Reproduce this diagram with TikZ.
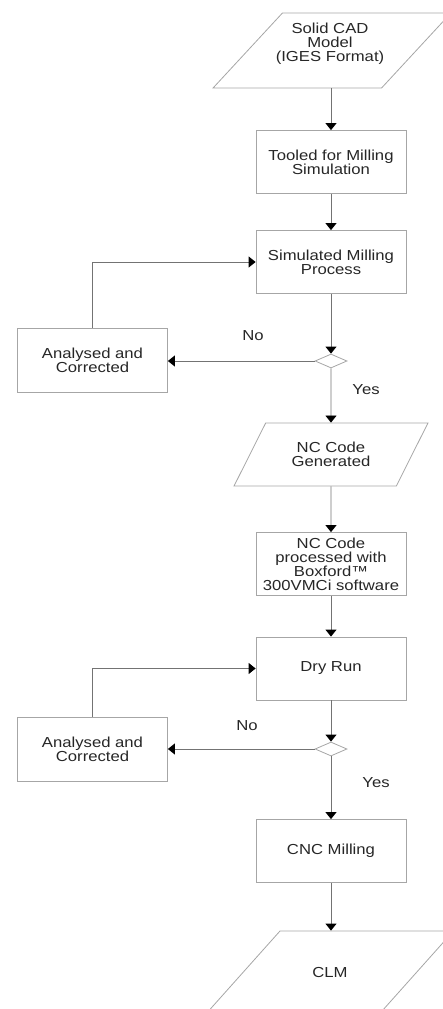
\documentclass[tikz,border=0pt]{standalone}
\usepackage{fontspec}
\setmainfont{Liberation Sans}[FakeStretch=1.15]
\usetikzlibrary{arrows.meta,shapes.geometric}

\begin{document}
\begin{tikzpicture}[x=1pt, y=-1pt]
			\tikzset{boite/.style={rectangle, draw=black!35, line width=0.8pt, minimum width=150pt, minimum height=63pt, inner sep=0pt, align=center, text=black!85, font=\fontsize{14.5}{14}\selectfont},
				donnee/.style={trapezium, trapezium left angle=55, trapezium right angle=125, trapezium stretches, draw=black!35, line width=0.8pt, inner sep=2pt, align=center, text=black!85, font=\fontsize{14.5}{14}\selectfont},
				test/.style={diamond, draw=black!35, line width=0.8pt, minimum width=32pt, minimum height=14pt, inner sep=0pt},
				etiquette/.style={text=black!85, font=\fontsize{14.5}{14}\selectfont},
				fleche/.style={draw=black!55, line width=0.8pt, -{Triangle[width=11pt, length=7pt, black]}}};

			\useasboundingbox (0,0) rectangle (443,1009);

			\node[donnee, minimum width=238pt, minimum height=75pt] (cad) at (332, 50.5) {};
			\node[etiquette, align=center] (cadtxt) at (330, 44) {Solid CAD\\Model\\(IGES Format)};
			\node[boite] (outil) at (331, 162) {Tooled for Milling\\Simulation};
			\node[boite] (simul) at (331, 262) {Simulated Milling\\Process};
			\node[test] (test1) at (331, 361) {};
			\node[boite, minimum height=64pt] (corr1) at (92.5, 360) {Analysed and\\Corrected};
			\node[donnee, minimum width=194pt, minimum height=63pt] (nc) at (331, 454.5) {NC Code\\Generated};
			\node[boite] (boxf) at (331, 564) {NC Code\\processed with\\Boxford™\\300VMCi software};
			\node[boite] (sec) at (331, 668.5) {Dry Run};
			\node[test] (test2) at (331, 749) {};
			\node[boite, minimum height=64pt] (corr2) at (92.5, 749) {Analysed and\\Corrected};
			\node[boite] (cnc) at (331, 851) {CNC Milling};
			\node[donnee, minimum width=245pt, minimum height=80pt] (clm) at (331, 971) {};
			\node[etiquette] (clmtxt) at (330, 972) {CLM};

			\node[etiquette] (non1) at (253, 336) {No};
			\node[etiquette] (oui1) at (366, 390) {Yes};
			\node[etiquette] (non2) at (247, 726) {No};
			\node[etiquette] (oui2) at (376, 783) {Yes};

			\draw[fleche] (cad.south -| outil.north) -- (outil.north);
			\draw[fleche] (outil) -- (simul);
			\draw[fleche] (simul) -- (test1);
			\draw[fleche] (test1.west) -- (test1.west -| corr1.east);
			\draw[fleche] (corr1.north) |- (simul.west);
			\draw[fleche] (test1) -- (nc.north);
			\draw[fleche] (nc.south) -- (boxf);
			\draw[fleche] (boxf) -- (sec);
			\draw[fleche] (sec) -- (test2);
			\draw[fleche] (test2.west) -- (test2.west -| corr2.east);
			\draw[fleche] (corr2.north) |- (sec.west);
			\draw[fleche] (test2) -- (cnc);
			\draw[fleche] (cnc) -- (clm.north);

		\end{tikzpicture}
\end{document}
